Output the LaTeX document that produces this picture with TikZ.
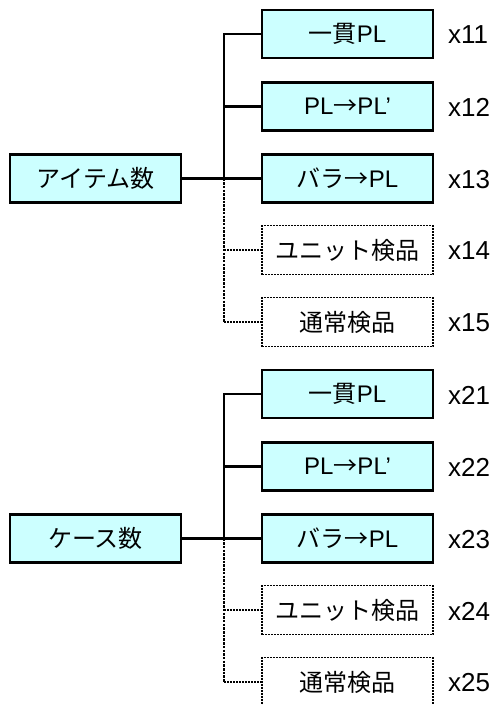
\documentclass[tikz,border=0pt]{standalone}
\usepackage{fontspec}
\setmainfont{Liberation Sans}
\newfontfamily\cjk{Noto Sans CJK JP}
\definecolor{boxfill}{HTML}{CCFFFF}
\begin{document}
\begin{tikzpicture}[x=1pt,y=-1pt,
  solidbox/.style={draw=black, line width=2.2pt, fill=boxfill, minimum width=171pt, minimum height=48pt, inner sep=0pt, font=\fontsize{24}{26}\selectfont},
  dashbox/.style={draw=black, line width=1.2pt, dash pattern=on 2pt off 1pt, fill=white, minimum width=171pt, minimum height=49pt, inner sep=0pt, font=\fontsize{24}{26}\selectfont},
  conn/.style={line width=2.2pt},
  dotconn/.style={line width=2.2pt, dash pattern=on 2.5pt off 1.2pt},
  thinconn/.style={line width=1.2pt, dash pattern=on 2pt off 1pt},
  lbl/.style={anchor=west, inner sep=0pt, font=\fontsize{26}{28}\selectfont}]
\useasboundingbox (0,0) rectangle (499,705);
\fill[white] (0,0) rectangle (499,705);
\foreach \g/\dy/\name in {1/0/{{\cjk アイテム数}}, 2/360/{{\cjk ケース数}}} {
  \node[solidbox] (L\g) at (95.5,178.5+\dy) {\name};
  \node[solidbox] (A\g) at (347.5,34+\dy) {{\cjk 一貫}PL};
  \node[solidbox] (B\g) at (347.5,106.5+\dy) {PL{\cjk →}PL’};
  \node[solidbox] (C\g) at (347.5,178.5+\dy) {{\cjk バラ→}PL};
  \node[dashbox] (D\g) at (347.5,250+\dy) {\cjk ユニット検品};
  \node[dashbox] (E\g) at (347.5,322+\dy) {\cjk 通常検品};
  \node[lbl] (xa\g) at (448,35+\dy) {x\g1};
  \node[lbl] (xb\g) at (448,107.5+\dy) {x\g2};
  \node[lbl] (xc\g) at (448,179.5+\dy) {x\g3};
  \node[lbl] (xd\g) at (448,251+\dy) {x\g4};
  \node[lbl] (xe\g) at (448,323+\dy) {x\g5};
  \coordinate (j\g) at (224,178.5+\dy);
  \draw[dotconn] (j\g) -- (j\g |- E\g.west);
  \draw[thinconn] (D\g.west -| j\g) -- (D\g.west);
  \draw[thinconn] (E\g.west -| j\g) -- (E\g.west);
  \draw[conn] (A\g.west) -| (j\g);
  \draw[conn] (B\g.west -| j\g) -- (B\g.west);
  \draw[conn] (L\g.east) -- (C\g.west);
}
\end{tikzpicture}
\end{document}
